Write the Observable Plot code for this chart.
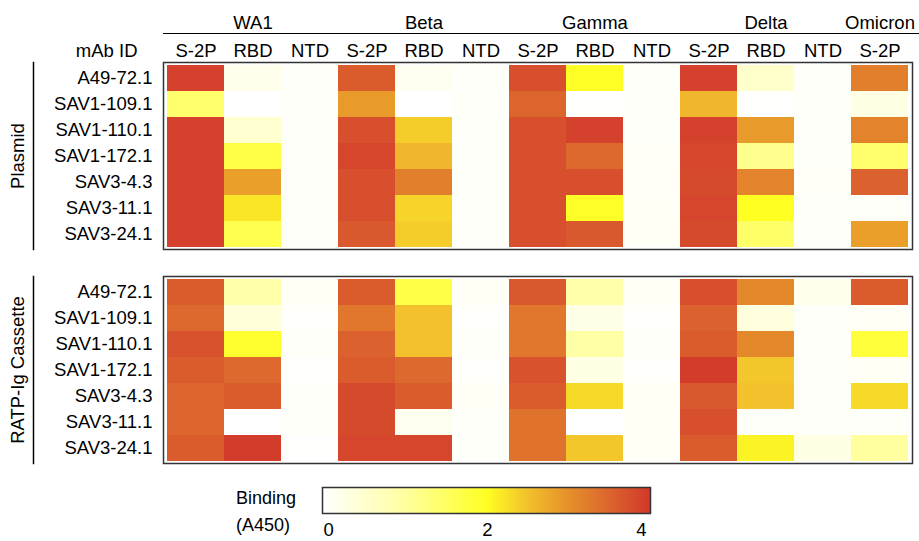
<!DOCTYPE html>
<html>
<head>
<meta charset="utf-8">
<script src="https://cdn.jsdelivr.net/npm/d3@7"></script>
<script src="https://cdn.jsdelivr.net/npm/@observablehq/plot@0.6"></script>
<style>
  html, body { margin: 0; padding: 0; background: #fff; }
  #wrap { position: relative; width: 919px; height: 541px; font-family: "Liberation Sans", Arial, sans-serif; }
  #legendLabel { position: absolute; left: 236px; top: 485px; font-size: 18px; line-height: 27px; color: #000; }
  #legendBox { position: absolute; left: 322px; top: 470px; }
</style>
</head>
<body>
<div id="wrap">
  <div id="chart"></div>
  <div id="legendLabel">Binding<br>(A450)</div>
  <div id="legendBox"></div>
</div>
<script>
// ---- data ----
const columns = ["WA1 S-2P","WA1 RBD","WA1 NTD","Beta S-2P","Beta RBD","Beta NTD","Gamma S-2P","Gamma RBD","Gamma NTD","Delta S-2P","Delta RBD","Delta NTD","Omicron S-2P"];
const antigenLabels = ["S-2P","RBD","NTD","S-2P","RBD","NTD","S-2P","RBD","NTD","S-2P","RBD","NTD","S-2P"];
const variantNames = ["WA1","Beta","Gamma","Delta","Omicron"];
const variantCenterCols = ["WA1 RBD","Beta RBD","Gamma RBD","Delta RBD","Omicron S-2P"];
const mAbs = ["A49-72.1","SAV1-109.1","SAV1-110.1","SAV1-172.1","SAV3-4.3","SAV3-11.1","SAV3-24.1"];
const panels = ["Plasmid","RATP-Ig Cassette"];

const plasmidValues = [
  [3.9, 0.2, 0.05, 3.6, 0.15, 0.05, 3.75, 1.97, 0.05, 3.9, 0.55, 0.05, 3.2],
  [1.4, 0.0, 0.05, 2.9, 0.0, 0.05, 3.5, 0.02, 0.05, 2.6, 0.02, 0.05, 0.3],
  [3.9, 0.5, 0.05, 3.75, 2.4, 0.05, 3.75, 3.9, 0.05, 3.9, 2.9, 0.05, 3.15],
  [3.9, 1.7, 0.05, 3.85, 2.6, 0.05, 3.75, 3.45, 0.08, 3.85, 1.15, 0.05, 1.4],
  [3.9, 2.85, 0.05, 3.75, 3.2, 0.05, 3.75, 3.75, 0.08, 3.8, 3.15, 0.08, 3.55],
  [3.9, 2.2, 0.05, 3.75, 2.35, 0.05, 3.75, 1.95, 0.1, 3.85, 2.0, 0.05, 0.05],
  [3.9, 1.65, 0.05, 3.65, 2.4, 0.05, 3.75, 3.65, 0.1, 3.8, 1.45, 0.05, 2.85]
];
const cassetteValues = [
  [3.6, 0.9, 0.1, 3.6, 1.7, 0.1, 3.65, 0.9, 0.1, 3.75, 3.1, 0.2, 3.6],
  [3.45, 0.4, 0.03, 3.3, 2.5, 0.03, 3.3, 0.25, 0.03, 3.55, 0.35, 0.05, 0.1],
  [3.7, 1.9, 0.05, 3.55, 2.5, 0.05, 3.3, 0.95, 0.05, 3.6, 3.1, 0.05, 1.8],
  [3.6, 3.45, 0.02, 3.6, 3.45, 0.03, 3.7, 0.3, 0.03, 3.95, 2.45, 0.05, 0.1],
  [3.5, 3.6, 0.05, 3.8, 3.6, 0.1, 3.6, 2.3, 0.1, 3.65, 2.5, 0.05, 2.3],
  [3.5, 0.0, 0.05, 3.8, 0.15, 0.05, 3.35, 0.0, 0.1, 3.75, 0.05, 0.05, 0.05],
  [3.6, 3.95, 0.02, 3.85, 3.85, 0.05, 3.35, 2.45, 0.1, 3.6, 2.1, 0.3, 1.0]
];

const colorDomain = [0, 0.5, 1, 1.5, 2, 2.5, 3, 3.5, 4];
const colorRange = ["#ffffff","#ffffd0","#ffffa0","#ffff62","#ffff22","#f2c12c","#e6912b","#dc652e","#d2382b"];
const legendTicks = [0, 2, 4];

// ---- build table ----
const cells = [];
[plasmidValues, cassetteValues].forEach((mat, p) => {
  mat.forEach((row, r) => {
    row.forEach((v, c) => {
      cells.push({panel: panels[p], row: mAbs[r], col: columns[c], value: v});
    });
  });
});

const colorSpec = {type: "linear", domain: colorDomain, range: colorRange, interpolate: "rgb"};
const font = "'Liberation Sans', Arial, sans-serif";

const chart = Plot.plot({
  width: 919,
  height: 470,
  marginTop: 62,
  marginLeft: 163,
  marginRight: 7,
  marginBottom: 6,
  style: {fontFamily: font, fontSize: "18.5px", color: "#000", background: "#fff", overflow: "visible"},
  x: {domain: columns, padding: 0},
  y: {domain: mAbs, padding: 0},
  fy: {domain: panels, paddingInner: 0.124, paddingOuter: 0, axis: null},
  color: colorSpec,
  marks: [
    Plot.cell(cells, {x: "col", y: "row", fy: "panel", fill: "value", inset: 0, shapeRendering: "crispEdges"}),
    Plot.frame({stroke: "#333", strokeWidth: 1.5}),
    Plot.axisY({tickSize: 0, tickPadding: 11, label: null}),
    Plot.axisX({anchor: "top", tickSize: 0, tickPadding: 6, label: null, tickFormat: (d) => antigenLabels[columns.indexOf(d)]}),
    Plot.text(variantNames, {x: variantCenterCols, text: (d) => d, fy: () => "Plasmid", frameAnchor: "top", dy: -34, lineAnchor: "bottom", textAnchor: "middle"}),
    Plot.frame({anchor: "top", dy: -29, insetRight: -6, stroke: "#000", strokeWidth: 1, fy: () => "Plasmid"}),
    Plot.text(["mAb ID"], {text: (d) => d, fy: () => "Plasmid", frameAnchor: "top-left", dx: -26, dy: -6, textAnchor: "end", lineAnchor: "bottom"}),
    Plot.frame({anchor: "left", dx: -130, stroke: "#000", strokeWidth: 1.5}),
    Plot.text(panels, {text: (d) => d, fy: (d) => d, frameAnchor: "left", dx: -145, rotate: -90, textAnchor: "middle", lineAnchor: "middle"})
  ]
});
document.getElementById("chart").appendChild(chart);

// ---- legend ----
const leg = Plot.legend({
  color: colorSpec,
  width: 329,
  height: 71,
  marginTop: 17,
  marginBottom: 27,
  marginLeft: 0,
  marginRight: 0,
  ticks: legendTicks,
  tickFormat: (d) => String(d),
  tickSize: 0,
  label: null,
  style: {fontFamily: font, fontSize: "18px", color: "#000", overflow: "visible", background: "transparent"}
});
document.getElementById("legendBox").appendChild(leg);
const ls = d3.select(leg);
ls.append("rect").attr("x", 0.5).attr("y", 17.5).attr("width", 328).attr("height", 26)
  .attr("fill", "none").attr("stroke", "#333").attr("stroke-width", 1.5);
const tickTexts = ls.selectAll(".tick text")
  .attr("y", 9).attr("font-size", 18.5).attr("font-family", font).attr("fill", "#000");
const nT = tickTexts.size();
tickTexts.each(function(d, i) {
  if (i === 0) d3.select(this).attr("text-anchor", "start").attr("dx", 1);
  if (i === nT - 1) d3.select(this).attr("text-anchor", "end").attr("dx", -5);
});
ls.selectAll(".tick line").remove();
</script>
</body>
</html>
